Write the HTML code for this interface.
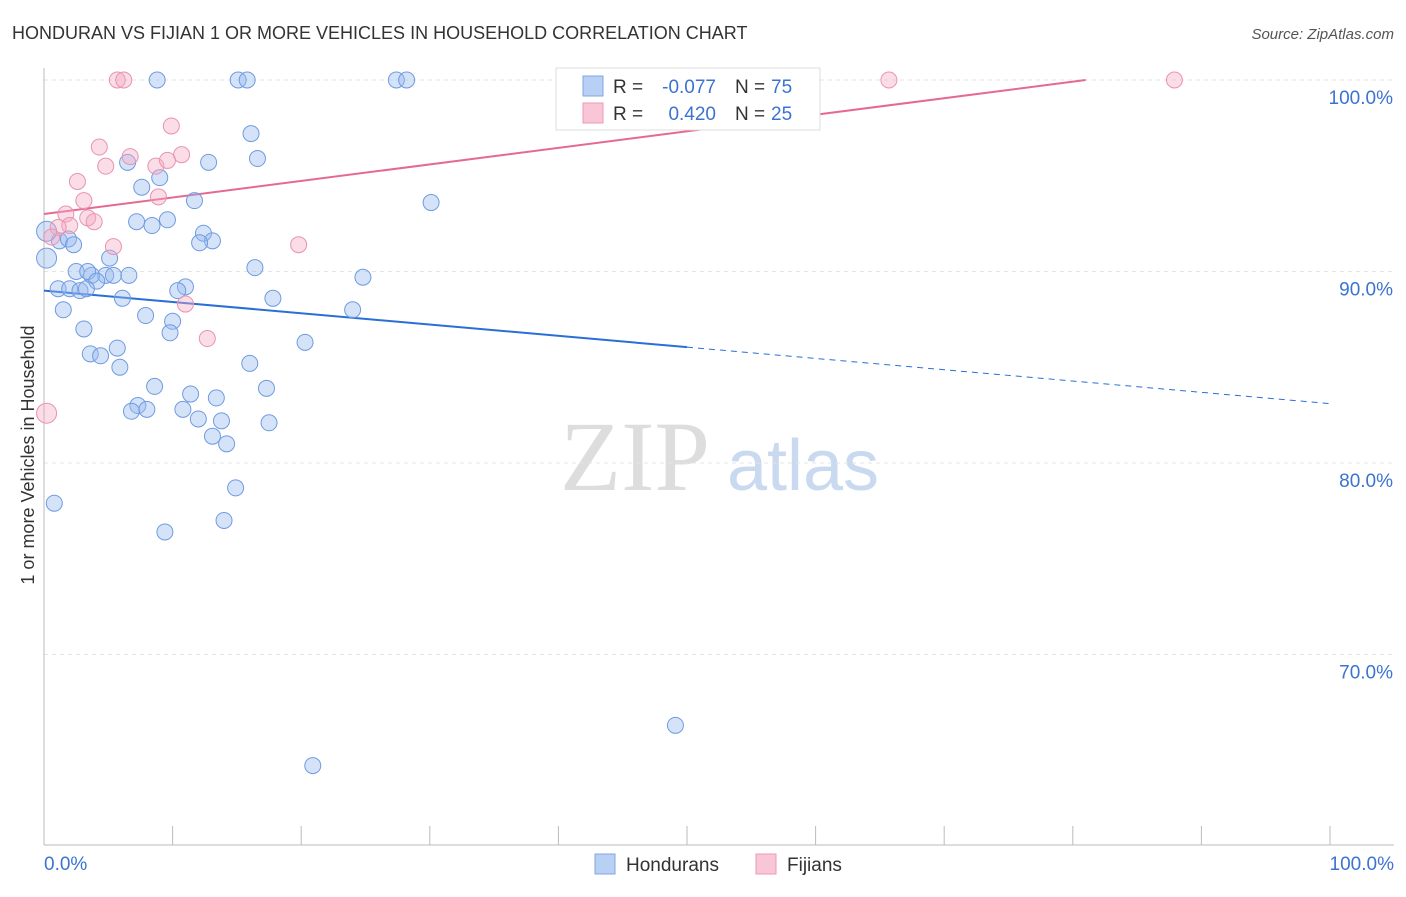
<!DOCTYPE html>
<html><head><meta charset="utf-8"><style>
body{margin:0;background:#fff;font-family:"Liberation Sans",sans-serif;}
svg text{font-family:"Liberation Sans",sans-serif;}
</style></head><body>
<svg id="chart" width="1406" height="892" xmlns="http://www.w3.org/2000/svg">
<text x="12" y="39" font-size="18" fill="#333">HONDURAN VS FIJIAN 1 OR MORE VEHICLES IN HOUSEHOLD CORRELATION CHART</text>
<text x="1394" y="39" font-size="15" fill="#555" font-style="italic" text-anchor="end">Source: ZipAtlas.com</text>
<text transform="translate(34,455) rotate(-90)" font-size="18" fill="#333" text-anchor="middle">1 or more Vehicles in Household</text>
<g>
<text x="635" y="490" font-size="100" fill="#ddd" style="font-family:'Liberation Serif',serif" text-anchor="middle">ZIP</text>
<text x="803" y="490" font-size="72" fill="#c9d9f0" text-anchor="middle">atlas</text>
</g>
<g id="grid"></g>
<g id="axes"></g>
<g id="lines"></g>
<g id="pts"></g>
<g>
<rect x="556" y="68" width="264" height="62" fill="#fff" stroke="#ddd"/>
<rect x="583" y="76" width="20" height="20" fill="#b8d0f3" stroke="#7fa6e0"/>
<text x="613" y="93" font-size="19" fill="#333">R =</text>
<text x="716" y="93" font-size="19" fill="#3b73d1" text-anchor="end">-0.077</text>
<text x="735" y="93" font-size="19" fill="#333">N =</text>
<text x="771" y="93" font-size="19" fill="#3b73d1">75</text>
<rect x="583" y="103" width="20" height="20" fill="#f8c6d6" stroke="#ec9ab4"/>
<text x="613" y="120" font-size="19" fill="#333">R =</text>
<text x="716" y="120" font-size="19" fill="#3b73d1" text-anchor="end">0.420</text>
<text x="735" y="120" font-size="19" fill="#333">N =</text>
<text x="771" y="120" font-size="19" fill="#3b73d1">25</text>
</g>
<g>
<rect x="595" y="854" width="20" height="20" fill="#b8d0f3" stroke="#7fa6e0"/>
<text x="626" y="871" font-size="19" fill="#333">Hondurans</text>
<rect x="756" y="854" width="20" height="20" fill="#f8c6d6" stroke="#ec9ab4"/>
<text x="787" y="871" font-size="19" fill="#333">Fijians</text>
</g>
</svg>
<script>
const yTicks=[100,90,80,70];
const yTickLabels=["100.0%","90.0%","80.0%","70.0%"];
const xTicks=[0,10,20,30,40,50,60,70,80,90,100];
const blueX=[8.8,15.1,15.8,27.4,28.2,40.6,16.1,12.8,16.6,6.5,7.6,9.0,11.7,30.1,7.2,8.4,9.6,12.4,13.1,12.1,1.2,1.9,2.3,5.1,16.4,2.5,3.7,3.4,4.8,5.4,6.6,4.1,1.1,2.0,2.8,3.3,11.0,10.4,6.1,17.8,24.8,1.5,7.9,10.0,9.8,3.1,24.0,20.3,5.7,3.6,4.4,5.9,16.0,8.6,17.3,11.4,13.4,7.3,6.8,8.0,10.8,12.0,13.8,17.5,13.1,14.2,14.9,0.8,14.0,9.4,49.1,20.9,0.2,0.2];
const blueY=[100,100,100,100,100,100,97.2,95.7,95.9,95.7,94.4,94.9,93.7,93.6,92.6,92.4,92.7,92.0,91.6,91.5,91.6,91.7,91.4,90.7,90.2,90.0,89.8,90.0,89.8,89.8,89.8,89.5,89.1,89.1,89.0,89.1,89.2,89.0,88.6,88.6,89.7,88.0,87.7,87.4,86.8,87.0,88.0,86.3,86.0,85.7,85.6,85.0,85.2,84.0,83.9,83.6,83.4,83.0,82.7,82.8,82.8,82.3,82.2,82.1,81.4,81.0,78.7,77.9,77.0,76.4,66.3,64.2,90.7,92.1];
const pinkX=[5.7,6.2,65.7,87.9,9.9,4.3,6.7,10.7,4.8,8.7,9.6,2.6,8.9,3.1,1.7,3.4,3.9,2.0,1.1,0.6,5.4,19.8,11.0,12.7,0.2];
const pinkY=[100,100,100,100,97.6,96.5,96.0,96.1,95.5,95.5,95.8,94.7,93.9,93.7,93.0,92.8,92.6,92.4,92.3,91.8,91.3,91.4,88.3,86.5,82.6];
const blueTrend=[89.0,83.1];
const pinkTrend=[93.0,100.0,81];
const X=v=>44+v*12.86, Y=v=>80+(100-v)*19.15;
const NS="http://www.w3.org/2000/svg";
function mk(t,a,p){const e=document.createElementNS(NS,t);for(const k in a)e.setAttribute(k,a[k]);p.appendChild(e);return e;}
const grid=document.getElementById('grid'),axes=document.getElementById('axes'),lines=document.getElementById('lines'),pts=document.getElementById('pts');
yTicks.forEach((t,i)=>{
 const l=mk('line',{x1:44,x2:1394,y1:Y(t),y2:Y(t),stroke:'#e4e4e4','stroke-dasharray':'4,4'},grid);
 
 
 const tx=mk('text',{x:1393,y:Y(t)+24,'font-size':19,fill:'#3b73d1','text-anchor':'end'},axes);tx.textContent=yTickLabels[i];
 
 
});
const ax=mk('line',{x1:44,x2:44,y1:68,y2:845,stroke:'#bbb'},axes);


const bx=mk('line',{x1:44,x2:1394,y1:845,y2:845,stroke:'#bbb'},axes);


xTicks.forEach(t=>{const l=mk('line',{x1:X(t),x2:X(t),y1:826,y2:845,stroke:'#bbb'},axes);
 
 });
[[0,'0.0%','start',44],[100,'100.0%','end',1394]].forEach(d=>{const t=mk('text',{x:d[3],y:870,'font-size':19,fill:'#3b73d1','text-anchor':d[2]},axes);t.textContent=d[1];
 
 });
blueX.forEach((x,i)=>{const c=mk('circle',{cx:X(x),cy:Y(blueY[i]),r:(x<0.5?10:8),fill:'rgba(150,185,240,0.4)',stroke:'#6f9be0','stroke-width':1},pts);
 
 });
pinkX.forEach((x,i)=>{const c=mk('circle',{cx:X(x),cy:Y(pinkY[i]),r:(x<0.5?10:8),fill:'rgba(245,170,195,0.4)',stroke:'#e993b0','stroke-width':1},pts);
 
 });
const by=x=>blueTrend[0]+(blueTrend[1]-blueTrend[0])*x/100;
const b1=mk('line',{x1:X(0),y1:Y(by(0)),x2:X(50),y2:Y(by(50)),stroke:'#2a6fd6','stroke-width':2},lines);


const b2=mk('line',{x1:X(50),y1:Y(by(50)),x2:X(100),y2:Y(by(100)),stroke:'#2a6fd6','stroke-width':1,'stroke-dasharray':'6,5'},lines);


const p1=mk('line',{x1:X(0),y1:Y(pinkTrend[0]),x2:X(pinkTrend[2]),y2:Y(pinkTrend[1]),stroke:'#e46a94','stroke-width':2},lines);


</script>
</body></html>
